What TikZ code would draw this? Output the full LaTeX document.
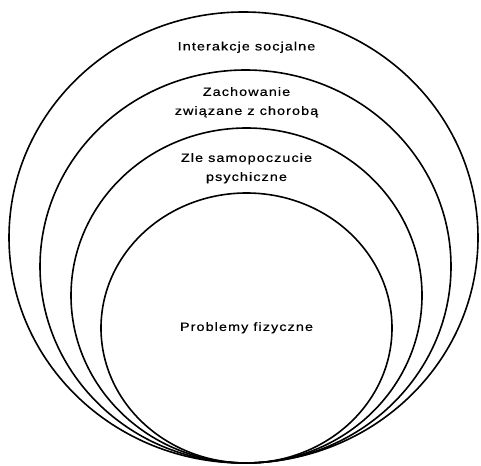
\documentclass[tikz,border=0pt]{standalone}
\usepackage{fontspec}
\setmainfont{Liberation Sans}[FakeStretch=1.2, LetterSpace=9, FakeBold=0.6]
\begin{document}
\begin{tikzpicture}[x=1pt,y=-1pt,
  ring/.style={line width=1.6pt, black},
  lbl/.style={font=\fontsize{12}{19}\selectfont, align=center, inner sep=0pt, anchor=north, text=black}]
\useasboundingbox (0,0) rectangle (481,465);
% nested rings, tangent at the bottom
\draw[ring] (243.5,237.5) ellipse [x radius=234.5pt, y radius=225.5pt];
\draw[ring] (245.5,266.5) ellipse [x radius=205.5pt, y radius=196.5pt];
\draw[ring] (246.5,295.5) ellipse [x radius=175.5pt, y radius=167.5pt];
\draw[ring] (246.5,328) ellipse [x radius=145.5pt, y radius=135pt];
% labels
\node[lbl] (social) at (246.5,41.5) {Interakcje socjalne};
\node[lbl] (behav) at (246.5,87) {Zachowanie\\związane z chorobą};
\node[lbl] (psych) at (246.5,153) {Zle samopoczucie\\psychiczne};
\node[lbl] (phys) at (246.5,322) {Problemy fizyczne};
\end{tikzpicture}
\end{document}
